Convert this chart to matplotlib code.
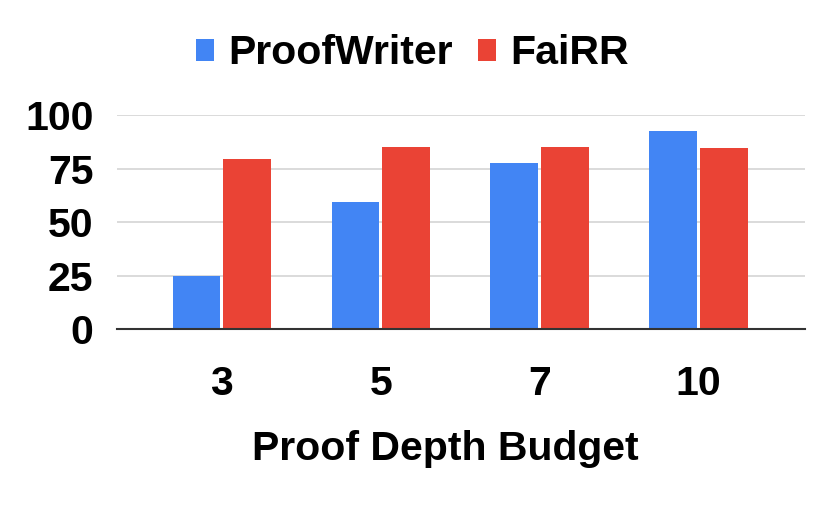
import matplotlib.pyplot as plt
import numpy as np

budgets = ["3", "5", "7", "10"]
proofwriter = [25.0, 59.5, 77.5, 92.5]
fairr = [79.5, 85.3, 85.3, 84.6]
y_ticks = [0, 25, 50, 75, 100]

plt.rcParams['font.family'] = ['Liberation Sans', 'DejaVu Sans']
plt.rcParams['font.weight'] = 'bold'

fig = plt.figure(figsize=(8.3, 5.07), dpi=100)
ax = fig.add_axes([0.141, 0.351, 0.829, 0.422])

x = np.arange(len(budgets))
w = 0.30
ax.bar(x - w / 2 - 0.01, proofwriter, width=w, color="#4285F4", label="ProofWriter", zorder=3)
ax.bar(x + w / 2 + 0.01, fairr, width=w, color="#EA4335", label="FaiRR", zorder=3)

fs = 29.5
ax.set_xlim(-0.66, 3.67)
ax.set_ylim(0, 100)
ax.set_yticks(y_ticks)
ax.set_xticks(x)
ax.set_xticklabels(budgets)
ax.tick_params(axis='both', length=0, labelsize=fs)
ax.tick_params(axis='x', pad=26)
ax.tick_params(axis='y', pad=17)
for lbl in ax.get_xticklabels() + ax.get_yticklabels():
    lbl.set_fontweight('bold')

ax.grid(axis='y', color="#d4d4d4", linewidth=1.2, zorder=0)
for s in ["top", "right", "left"]:
    ax.spines[s].set_visible(False)
ax.spines["bottom"].set_color("#333333")
ax.spines["bottom"].set_linewidth(1.5)
ax.spines["bottom"].set_zorder(4)

ax.set_xlabel("Proof Depth Budget", fontsize=fs, fontweight='bold')
ax.xaxis.set_label_coords(0.477, -0.47)

fig.legend(loc="center", bbox_to_anchor=(0.497, 0.895), ncol=2, frameon=False,
           handlelength=0.45, handleheight=0.45, handletextpad=0.35,
           columnspacing=0.6, prop={'weight': 'bold', 'size': fs})

fig.savefig("out.png", dpi=100)
